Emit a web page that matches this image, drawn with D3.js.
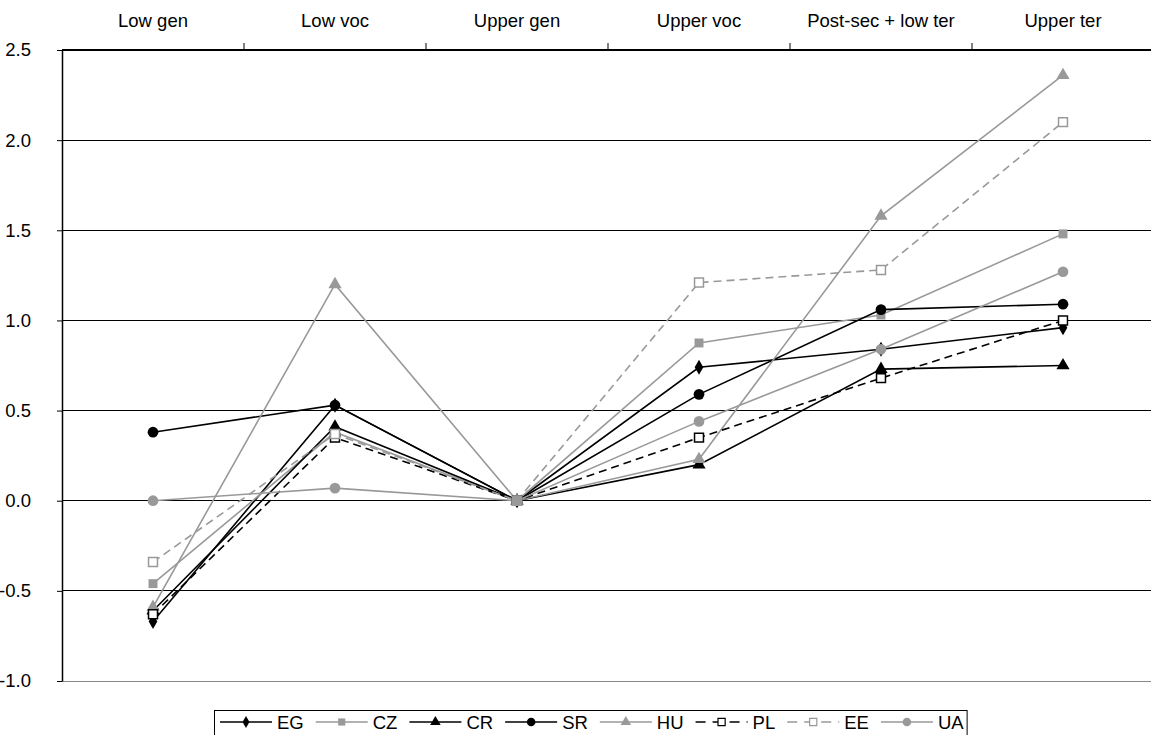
<!DOCTYPE html>
<html><head><meta charset="utf-8">
<script src="https://cdn.jsdelivr.net/npm/d3@7"></script>
<style>body{margin:0;background:#fff}svg{display:block;font-family:"Liberation Sans",Arial,sans-serif}</style>
</head><body>
<svg id="c" width="1151" height="735"></svg>
<script>
const categories = ["Low gen","Low voc","Upper gen","Upper voc","Post-sec + low ter","Upper ter"];
const seriesNames = ["EG","CZ","CR","SR","HU","PL","EE","UA"];
const EG = [-0.67, 0.53, 0, 0.74, 0.84, 0.96];
const CZ = [-0.46, 0.38, 0, 0.875, 1.03, 1.48];
const CR = [-0.61, 0.41, 0, 0.20, 0.73, 0.75];
const SR = [0.38, 0.53, 0, 0.59, 1.06, 1.09];
const HU = [-0.59, 1.20, 0, 0.23, 1.58, 2.36];
const PL = [-0.63, 0.35, 0, 0.35, 0.68, 1.00];
const EE = [-0.34, 0.37, 0, 1.21, 1.28, 2.10];
const UA = [0.0, 0.07, 0, 0.44, 0.84, 1.27];
const yTicks = [-1.0,-0.5,0.0,0.5,1.0,1.5,2.0,2.5];

const values = {EG,CZ,CR,SR,HU,PL,EE,UA};
const styles = {
  EG:{color:"#000",dash:null,shape:"diamond",fill:"#000"},
  CZ:{color:"#999",dash:null,shape:"square",fill:"#999"},
  CR:{color:"#000",dash:null,shape:"triangle",fill:"#000"},
  SR:{color:"#000",dash:null,shape:"circle",fill:"#000"},
  HU:{color:"#999",dash:null,shape:"triangle",fill:"#999"},
  PL:{color:"#000",dash:"8,5",shape:"square",fill:"#fff"},
  EE:{color:"#999",dash:"8,5",shape:"square",fill:"#fff"},
  UA:{color:"#999",dash:null,shape:"circle",fill:"#999"}
};
const FONT = "'Liberation Sans',Arial,sans-serif";
const FS = 18.5;

const svg = d3.select("#c");
const L=62, R=1154, T=50, B=681;
const x = d3.scaleBand().domain(categories).range([L,R]);
const y = d3.scaleLinear().domain([-1,2.5]).range([B,T]);

// gridlines
svg.append("g").selectAll("line").data(yTicks).join("line")
  .attr("x1",L).attr("x2",1151).attr("y1",d=>y(d)).attr("y2",d=>y(d))
  .attr("stroke",d=>d===-1?"#888":"#000").attr("stroke-width",d=>d===2.5?1.5:1)
  .attr("shape-rendering","crispEdges");

// y axis
const ya = svg.append("g").attr("transform",`translate(${L},0)`)
  .call(d3.axisLeft(y).tickValues(yTicks).tickSize(5).tickSizeOuter(0));
ya.select(".domain").attr("stroke","#000").attr("stroke-width",1.5);
ya.selectAll("text").attr("font-size",FS).attr("fill","#000").attr("x",-31)
  .attr("font-family",FONT).text(d=>d.toFixed(1));
ya.selectAll(".tick line").attr("stroke","#000");

// top axis
const xa = svg.append("g").attr("transform",`translate(0,${T})`)
  .call(d3.axisTop(x).tickSize(0));
xa.select(".domain").remove();
xa.selectAll("text").attr("font-size",FS).attr("fill","#000").attr("y",-23)
  .attr("font-family",FONT);
const bounds = categories.slice(1).map(c=>x(c));
svg.append("g").selectAll("line").data(bounds).join("line")
  .attr("x1",d=>d).attr("x2",d=>d).attr("y1",T-7).attr("y2",T)
  .attr("stroke","#000");

function sym(shape){
  const t = {diamond:d3.symbolDiamond,square:d3.symbolSquare,triangle:d3.symbolTriangle,circle:d3.symbolCircle}[shape];
  const s = {diamond:65,square:80,triangle:75,circle:90}[shape];
  return d3.symbol().type(t).size(s)();
}

const line = d3.line().x((d,i)=>x(categories[i])+x.bandwidth()/2).y(d=>y(d));
const g = svg.append("g");
seriesNames.forEach(n=>{
  const st=styles[n];
  g.append("path").datum(values[n]).attr("d",line).attr("fill","none")
    .attr("stroke",st.color).attr("stroke-width",1.6).attr("stroke-dasharray",st.dash);
});
seriesNames.forEach(n=>{
  const st=styles[n];
  g.append("g").selectAll("path").data(values[n]).join("path")
    .attr("transform",(d,i)=>`translate(${x(categories[i])+x.bandwidth()/2},${y(d)})`)
    .attr("d",sym(st.shape)).attr("fill",st.fill).attr("stroke",st.color)
    .attr("stroke-width",st.fill==="#fff"?1.5:0);
});

// legend
const lg = svg.append("g");
const box = lg.append("rect").attr("x",214.5).attr("y",710.5).attr("height",30).attr("fill","#fff").attr("stroke","#000");
let cx = 220;
seriesNames.forEach(n=>{
  const st=styles[n];
  const item = lg.append("g").attr("transform",`translate(${cx},722)`);
  item.append("line").attr("x1",0).attr("x2",52).attr("stroke",st.color).attr("stroke-width",1.6)
    .attr("stroke-dasharray",st.dash?"10,7":null);
  item.append("path").attr("transform","translate(26,0) scale(0.8)").attr("d",sym(st.shape))
    .attr("fill",st.fill).attr("stroke",st.color).attr("stroke-width",st.fill==="#fff"?1.5:0);
  const t = item.append("text").attr("x",57).attr("y",7).attr("font-size",FS).attr("font-family",FONT).text(n);
  cx += 57 + t.node().getComputedTextLength() + 12;
});
box.attr("width",cx-12+3-214);
</script>
</body></html>
